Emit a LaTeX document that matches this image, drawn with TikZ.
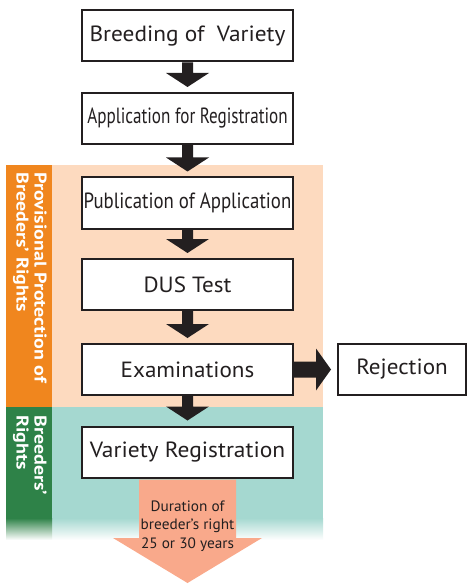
\documentclass[tikz,border=0pt]{standalone}
\usepackage{fontspec}
\usepackage{graphicx}
\setmainfont{PT Sans}
\usetikzlibrary{calc}
\definecolor{peach}{HTML}{FDDABF}
\definecolor{bandorange}{HTML}{F0861E}
\definecolor{bandgreen}{HTML}{2E8248}
\definecolor{teal}{HTML}{A5D8D0}
\definecolor{salmon}{HTML}{F9A98B}
\definecolor{ink}{HTML}{231F20}
\newcommand\flowarrow[2]{%
  \fill[ink] ($(#1.south)+(-5.5,0)$) -- ($(#1.south)+(5.5,0)$) --
    ($(#2.north)+(5.5,-19)$) -- ($(#2.north)+(21.5,-19)$) --
    ($(#2.north)+(0,-5)$) -- ($(#2.north)+(-21.5,-19)$) --
    ($(#2.north)+(-5.5,-19)$) -- cycle;}
\newcommand\sx[2]{\scalebox{#1}[1]{#2}}
\begin{document}
\begin{tikzpicture}[x=1pt,y=-1pt,
  box/.style={draw=ink,line width=2pt,fill=white,minimum width=211pt,minimum height=51pt,inner sep=0pt,text=ink,font=\fontsize{22}{26}\selectfont},
  bandlabel/.style={rotate=-90,text=white,align=left,anchor=north west,inner sep=0pt,font=\bfseries\fontsize{17}{18}\selectfont}]
\useasboundingbox (0,0) rectangle (471,585);
% backgrounds
\fill[peach] (52,165) rectangle (323,407);
\fill[bandorange] (6,165) rectangle (52,407);
\fill[teal] (52,407) rectangle (323,518);
\shade[top color=teal,bottom color=white] (52,518) rectangle (323,540);
\fill[bandgreen] (6,407) rectangle (52,518);
\shade[top color=bandgreen,bottom color=white] (6,518) rectangle (52,540);
% band labels
\node[bandlabel] (prov) at (47,172) {\sx{1.18}{Provisional Protection of}\\\sx{1.18}{Breeders' Rights}};
\node[bandlabel] (brl) at (47,415) {\sx{1.18}{Breeders'}\\\sx{1.18}{Rights}};
% boxes
\node[box] (b1) at (187.5,36) {\sx{1.06}{Breeding of\ \ Variety}};
\node[box] (b2) at (187.5,118.5) {\sx{0.777}{Application for Registration}};
\node[box] (b3) at (187.5,203) {\sx{0.855}{Publication of Application}};
\node[box] (b4) at (187.5,284.5) {\sx{1.05}{DUS Test}};
\node[box] (b5) at (187.5,369.5) {\sx{1.05}{Examinations}};
\node[box] (b6) at (187.5,452) {\sx{1.065}{Variety Registration}};
\node[box,minimum width=128pt] (rej) at (402,369.5) {\sx{1.05}{Rejection}};
% arrows
\flowarrow{b1}{b2}
\flowarrow{b2}{b3}
\flowarrow{b3}{b4}
\flowarrow{b4}{b5}
\flowarrow{b5}{b6}
\fill[ink] ($(b5.east)+(0,-8)$) -- ($(rej.west)+(-21,-8)$) -- ($(rej.west)+(-21,-21)$) --
  ($(rej.west)+(-6,0)$) -- ($(rej.west)+(-21,21)$) -- ($(rej.west)+(-21,8)$) -- ($(b5.east)+(0,8)$) -- cycle;
% duration arrow
\coordinate (tip) at (187.5,583);
\fill[salmon] ($(b6.south)+(-48.5,1)$) -- ($(b6.south)+(48.5,1)$) -- (236,538) -- (262,538) -- (tip) -- (113,538) -- (139,538) -- cycle;
\node[align=center,text=ink,font=\fontsize{15}{18.5}\selectfont] (dur) at (187.5,526) {\sx{1.02}{Duration of}\\\sx{1.02}{breeder's right}\\\sx{1.02}{25 or 30 years}};
\end{tikzpicture}
\end{document}
